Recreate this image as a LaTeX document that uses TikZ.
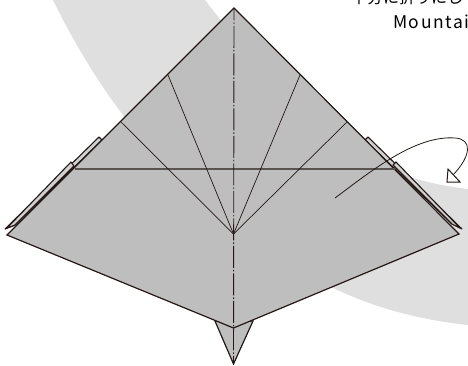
\documentclass[tikz,border=0pt]{standalone}
\usepackage{fontspec}
\newfontfamily\jpfont{Noto Sans CJK JP}
\newfontfamily\latinfont[LetterSpace=9]{Noto Sans CJK JP}
\usetikzlibrary{arrows.meta}
\definecolor{bandgray}{HTML}{DFDFDF}
\definecolor{papergray}{HTML}{BEBEBE}
\definecolor{inkdark}{HTML}{231815}
\definecolor{creasegray}{HTML}{5A5350}
\tikzset{
  paper/.style={fill=papergray,draw=inkdark,line width=1.2pt,line join=miter},
  flapshape/.style={fill=papergray!70!white,draw=inkdark,line width=1.1pt,line join=round},
  crease/.style={draw=inkdark,line width=0.7pt},
  level/.style={draw=creasegray,line width=1.2pt},
  mountain/.style={draw=inkdark,line width=0.9pt,dash pattern=on 22pt off 2pt on 1.5pt off 2pt,dash phase=9.75pt},
  label/.style={inner sep=0pt,anchor=base west,text=black}
}
\begin{document}
\begin{tikzpicture}[x=1pt,y=-1pt]
\useasboundingbox (0,0) rectangle (468,365);
\clip (0,0) rectangle (468,365);
% coordinates
\coordinate (apex) at (234,8);
\coordinate (lc) at (7,235);
\coordinate (rc) at (459,234);
\coordinate (bot) at (233.5,328);
\coordinate (ctr) at (233.5,234);
\coordinate (tailL) at (215,321);
\coordinate (tailR) at (253,321);
\coordinate (tip) at (233.5,364);
% background band
\fill[bandgray] (53,0) .. controls (75,45) and (100,85) .. (123,115)
  .. controls (190,205) and (260,270) .. (333,288)
  .. controls (375,308) and (420,320) .. (468,325)
  -- (468,189) .. controls (450,187) and (430,183) .. (413,178)
  .. controls (340,150) and (265,80) .. (222,22)
  -- (205,0) -- cycle;
% tail
\path[paper] (tailL) -- (tip) -- (tailR) -- cycle;
% flaps, right
\path[flapshape] (365,140) -- (368,137) -- (462,229) -- (452,224) -- cycle;
\path[flapshape] (393,165) -- (396,162) -- (460,228) -- (452,224) -- cycle;
% flaps, left
\path[flapshape] (102,140) -- (99,137) -- (5,229) -- (15,225) -- cycle;
\path[flapshape] (74,166) -- (71,162) -- (7,228) -- (15,225) -- cycle;
% main paper
\path[paper] (apex) -- (rc) -- (bot) -- (lc) -- cycle;
\coordinate (h1) at (75,169);
\coordinate (h2) at (395,169);
\path[level] (h1) -- (h2);
\coordinate (e1) at (121,122);
\coordinate (e2) at (168,75);
\coordinate (e3) at (300,75);
\coordinate (e4) at (347,122);
\path[crease] (ctr) -- (e1);
\path[crease] (ctr) -- (e2);
\path[crease] (ctr) -- (e3);
\path[crease] (ctr) -- (e4);
\path[mountain] (apex) -- (tip);
% arrow
\coordinate (as) at (335,198);
\coordinate (ae) at (453,175);
\path[crease,line width=0.8pt] (as) .. controls (370,172) and (415,135) .. (455,138)
  .. controls (472,139) and (472,155) .. (ae);
\path[draw=inkdark,line width=1pt,fill=white,line join=miter] (447,182) -- (448,169) -- (460,182) -- cycle;
% text
\node[label,font=\jpfont\fontsize{16}{18}\selectfont] (ja) at (351,3.5) {半分に折りにして};
\node[label,font=\latinfont\fontsize{17.5}{20}\selectfont] (en) at (393,28) {Mountain fold};
\end{tikzpicture}
\end{document}
